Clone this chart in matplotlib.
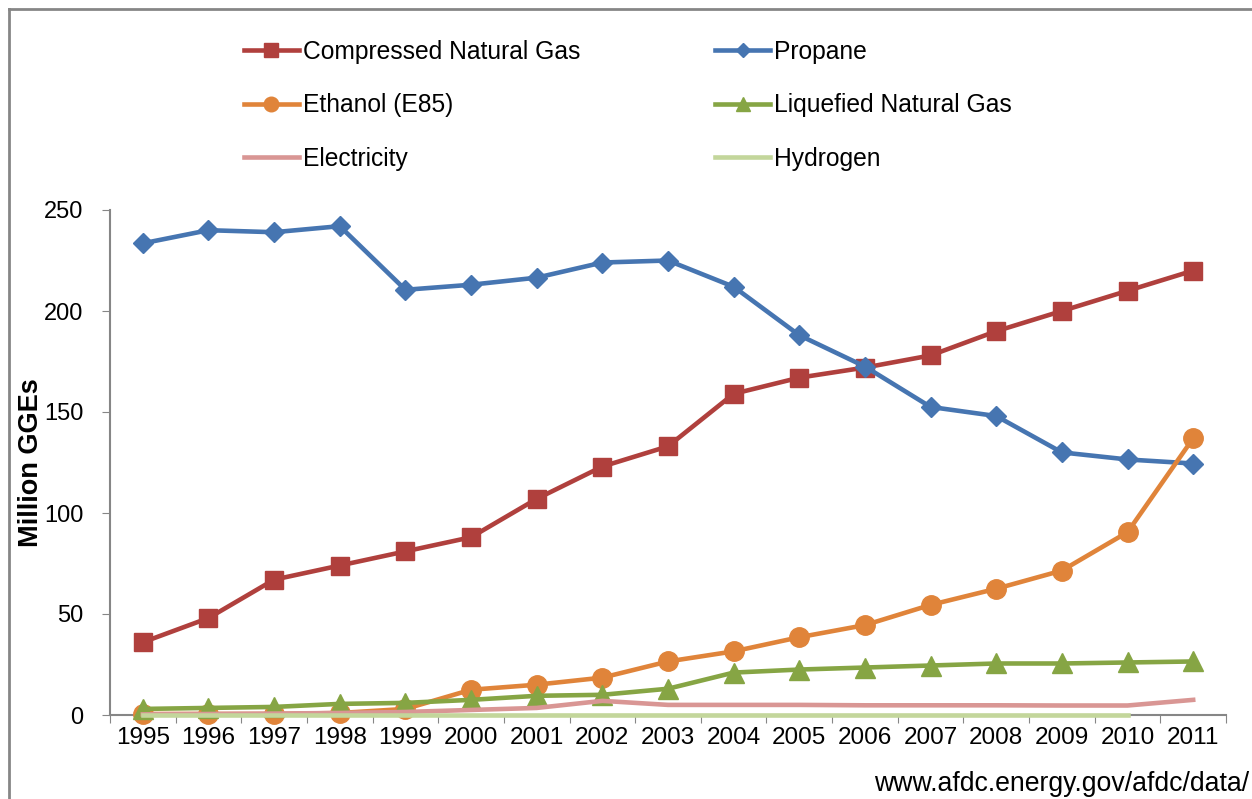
import numpy as np
import matplotlib
matplotlib.use('Agg')
import matplotlib.pyplot as plt
from matplotlib.lines import Line2D

plt.rcParams['font.family'] = ['Liberation Sans', 'DejaVu Sans']

years = list(range(1995, 2012))
cng = [36, 48, 67, 74, 81, 88, 107, 123, 133, 159, 167, 172, 178, 190, 200, 210, 220]
propane = [233.5, 240, 239, 242, 210.5, 213, 216.5, 224, 225, 212, 188, 172.5, 152.5, 148, 130, 126.5, 124.5]
ethanol = [0.5, 0.5, 0.5, 1, 3, 12.5, 15, 18.5, 26.5, 31.5, 38.5, 44.5, 54.5, 62.5, 71.5, 90.5, 137]
lng = [3, 3.5, 4, 5.5, 6, 7.5, 9.5, 10, 13, 21, 22.5, 23.5, 24.5, 25.5, 25.5, 26, 26.5]
electricity = [0.3, 0.5, 0.7, 1, 1.5, 2.5, 3.5, 7, 5, 5, 5, 4.8, 4.8, 4.8, 4.7, 4.7, 7.5]
hydrogen = [0, 0, 0, 0, 0, 0, 0, 0, 0, 0, 0, 0, 0, 0, 0, 0, np.nan]
source = 'www.afdc.energy.gov/afdc/data/'

fig = plt.figure(figsize=(12.52, 7.99), dpi=100)
ax = fig.add_axes([110 / 1252, 1 - 715 / 799, 1116 / 1252, 505 / 799])

x = np.array(years)
lw = 3.3
ax.plot(x, cng, color='#B0403D', lw=lw, marker='s', ms=13, label='Compressed Natural Gas', zorder=3, clip_on=False)
ax.plot(x, propane, color='#4675B1', lw=lw, marker='D', ms=10, label='Propane', zorder=4, clip_on=False)
ax.plot(x, ethanol, color='#E0843A', lw=lw, marker='o', ms=14, label='Ethanol (E85)', zorder=5, clip_on=False)
ax.plot(x, lng, color='#86A544', lw=lw, marker='^', ms=14, label='Liquefied Natural Gas', zorder=6, clip_on=False)
ax.plot(x, electricity, color='#D99694', lw=lw, label='Electricity', zorder=7, clip_on=False)
ax.plot(x, hydrogen, color='#C3D69B', lw=lw, label='Hydrogen', zorder=8, clip_on=False)

ax.set_xlim(1994.5, 2011.5)
ax.set_ylim(0, 250)
ax.set_yticks([0, 50, 100, 150, 200, 250])
ax.set_xticks(np.arange(1994.5, 2012, 1))
ax.set_xticklabels([])
ax.set_xticks(x, minor=True)
ax.set_xticklabels([str(y) for y in years], minor=True, fontsize=17.5)
ax.tick_params(axis='x', which='major', length=6, color='#868686', direction='out')
ax.tick_params(axis='x', which='minor', length=0, pad=9)
ax.tick_params(axis='y', length=6, color='#868686', labelsize=17, pad=13)
for s in ['top', 'right']:
    ax.spines[s].set_visible(False)
for s in ['left', 'bottom']:
    ax.spines[s].set_color('#868686')
    ax.spines[s].set_linewidth(1.5)
ax.set_ylabel('Million GGEs', fontsize=19.5, fontweight='bold')
ax.yaxis.set_label_coords(-66 / 1116, 0.5)

order = ['Compressed Natural Gas', 'Ethanol (E85)', 'Electricity',
         'Propane', 'Liquefied Natural Gas', 'Hydrogen']
handles, labels = ax.get_legend_handles_labels()
hl = dict(zip(labels, handles))
leg = fig.legend([hl[k] for k in order], order, ncol=2, loc='upper left',
                 bbox_to_anchor=(234 / 1252, 1 - 30 / 799), frameon=False,
                 fontsize=17.7, handlelength=2.24, handletextpad=0.15,
                 columnspacing=5.5, labelspacing=1.2, markerscale=0.75,
                 borderaxespad=0)

fig.text(1249 / 1252, 1 - 784 / 799, source, ha='right', va='center', fontsize=19.2)

fig.add_artist(Line2D([9 / 1252, 9 / 1252], [0, 1 - 9 / 799], color='#868686', lw=2))
fig.add_artist(Line2D([9 / 1252, 1], [1 - 9 / 799, 1 - 9 / 799], color='#868686', lw=2))

fig.savefig('out.png', dpi=100)
